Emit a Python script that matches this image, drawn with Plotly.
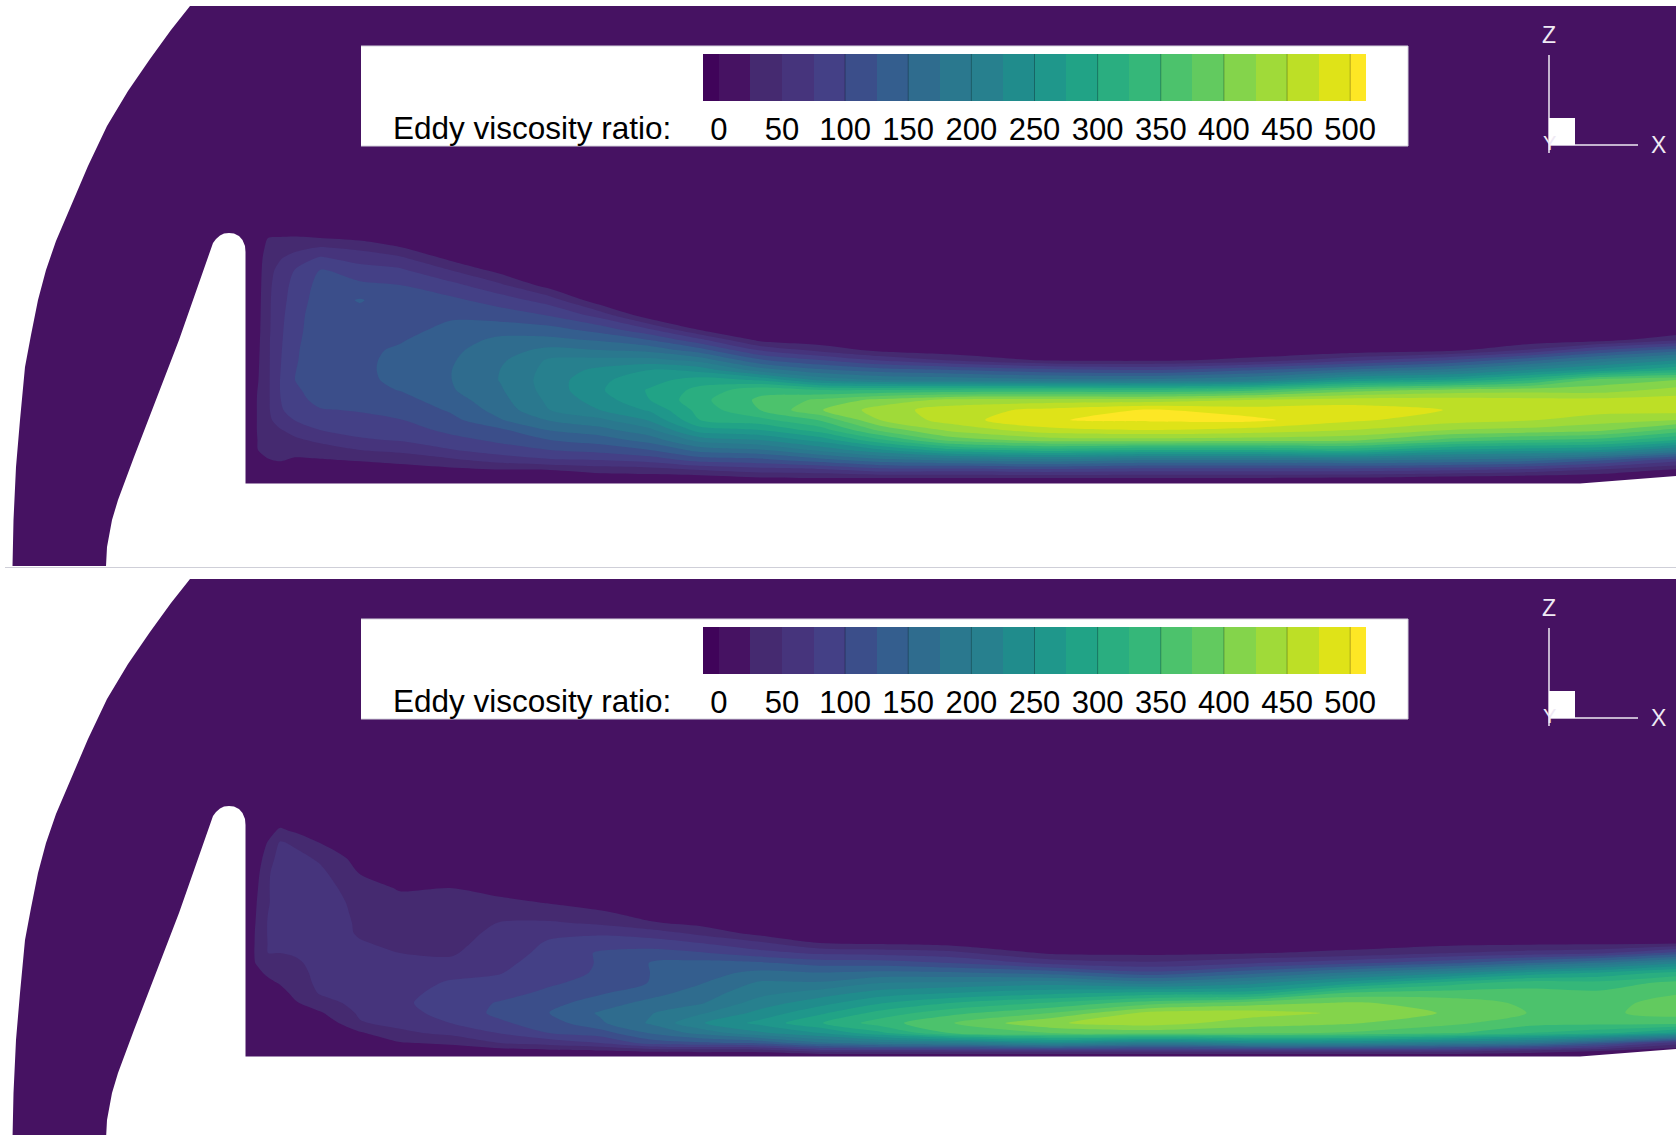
import numpy as np
import plotly.graph_objects as go

W, H = 1676, 1135
PANEL_SHIFT = 573

# ---- data: eddy viscosity ratio, one list per x station ----
x_stations = [247, 258, 268, 280, 295, 320, 360, 400, 450, 500, 550, 600, 650, 700, 760, 820,
              880, 950, 1050, 1150, 1250, 1350, 1450, 1530, 1600, 1676]
z_rows = [228, 238, 248, 258, 270, 285, 300, 315, 330, 340, 350, 360, 370, 380, 390, 400, 410,
          420, 430, 440, 450, 460, 470, 478, 483]

upper_field = [
    [0, 2, 3, 4, 5, 6, 7, 8, 8, 8, 8, 8, 8, 8, 8, 8, 8, 8, 8, 7, 6, 4, 2, 0, 0],
    [2, 10, 12, 14, 15, 16, 17, 18, 19, 20, 21, 22, 23, 24, 26, 27, 27, 27, 27, 26, 25, 18, 6, 1, 0],
    [5, 25, 32, 38, 42, 44, 45, 45, 45, 46, 46, 46, 46, 46, 46, 46, 46, 44, 40, 36, 31, 24, 8, 2, 0],
    [6, 27, 36, 48, 57, 63, 66, 68, 70, 71, 72, 73, 74, 75, 75, 74, 72, 62, 48, 40, 33, 27, 12, 3, 0],
    [7, 28, 43, 60, 76, 83, 86, 90, 92, 94, 96, 97, 99, 100, 95, 91, 85, 76, 60, 45, 33, 22, 10, 3, 0],
    [8, 25, 53, 78, 100, 108, 112, 115, 116, 117, 118, 119, 119, 118, 114, 108, 98, 86, 75, 56, 38, 23, 10, 3, 0],
    [5, 18, 45, 65, 85, 105, 127, 117, 118, 119, 120, 120, 120, 119, 116, 110, 102, 93, 83, 72, 50, 27, 12, 4, 0],
    [2, 8, 27, 55, 79, 100, 110, 116, 119, 123, 128, 131, 132, 131, 126, 116, 107, 99, 88, 77, 57, 32, 15, 5, 0],
    [0, 1, 6, 18, 50, 83, 106, 122, 130, 138, 144, 147, 149, 149, 147, 138, 128, 117, 106, 92, 73, 45, 18, 6, 0],
    [0, 0, 1, 3, 15, 55, 88, 113, 140, 156, 164, 170, 175, 176, 172, 167, 160, 148, 120, 105, 89, 60, 23, 7, 0],
    [0, 0, 0, 0, 1, 12, 63, 98, 136, 157, 182, 204, 209, 212, 211, 206, 200, 177, 152, 125, 100, 72, 25, 8, 0],
    [0, 0, 0, 0, 0, 0, 6, 65, 116, 147, 175, 207, 232, 245, 247, 237, 225, 194, 166, 137, 109, 75, 35, 10, 0],
    [0, 0, 0, 0, 0, 0, 0, 5, 80, 125, 167, 208, 250, 265, 278, 275, 254, 228, 194, 161, 125, 85, 38, 12, 0],
    [0, 0, 0, 0, 0, 0, 0, 0, 25, 82, 135, 190, 240, 288, 308, 318, 310, 300, 263, 210, 160, 110, 50, 12, 0],
    [0, 0, 0, 0, 0, 0, 0, 0, 3, 18, 72, 128, 188, 272, 342, 355, 350, 317, 275, 225, 172, 117, 63, 22, 0],
    [0, 0, 0, 0, 0, 0, 0, 0, 0, 8, 42, 100, 155, 220, 325, 380, 398, 352, 312, 260, 206, 140, 68, 25, 0],
    [0, 0, 0, 0, 0, 0, 0, 0, 0, 2, 17, 72, 137, 200, 325, 408, 437, 425, 381, 320, 246, 165, 87, 25, 0],
    [0, 0, 0, 0, 0, 0, 0, 0, 0, 0, 8, 47, 127, 193, 329, 432, 463, 462, 431, 385, 291, 180, 85, 25, 0],
    [0, 0, 0, 0, 0, 0, 0, 0, 0, 0, 2, 20, 108, 183, 332, 436, 482, 499, 467, 412, 311, 190, 91, 25, 0],
    [0, 0, 0, 0, 0, 0, 0, 0, 0, 0, 2, 18, 100, 183, 329, 436, 503, 504, 475, 414, 300, 175, 85, 25, 0],
    [0, 0, 0, 0, 0, 0, 0, 0, 0, 0, 3, 32, 123, 200, 343, 450, 487, 507, 466, 411, 300, 175, 85, 25, 0],
    [0, 0, 0, 0, 0, 0, 0, 0, 0, 0, 7, 67, 154, 260, 386, 462, 488, 480, 450, 406, 311, 181, 85, 22, 0],
    [0, 0, 0, 0, 0, 0, 0, 0, 0, 2, 17, 100, 183, 280, 408, 462, 474, 462, 425, 367, 270, 170, 78, 12, 0],
    [0, 0, 0, 0, 0, 0, 0, 0, 0, 7, 53, 142, 227, 322, 414, 458, 460, 452, 417, 350, 260, 160, 65, 8, 0],
    [0, 0, 0, 0, 0, 0, 0, 0, 1, 15, 100, 183, 262, 386, 412, 458, 460, 436, 406, 340, 250, 130, 45, 5, 0],
    [0, 0, 0, 0, 0, 0, 0, 0, 5, 46, 137, 223, 300, 400, 434, 462, 462, 425, 367, 300, 200, 85, 20, 2, 0],
]

lower_field = [
    [0, 0, 1, 2, 3, 4, 6, 8, 10, 11, 12, 13, 14, 15, 16, 14, 10, 6, 3, 1, 0, 0, 0, 0, 0],
    [0, 0, 2, 5, 10, 15, 21, 25, 27, 28, 29, 30, 30, 30, 28, 20, 12, 7, 3, 1, 0, 0, 0, 0, 0],
    [0, 2, 6, 15, 27, 38, 47, 48, 48, 50, 52, 52, 51, 50, 42, 30, 18, 8, 3, 1, 0, 0, 0, 0, 0],
    [0, 3, 15, 30, 53, 60, 62, 63, 62, 62, 62, 60, 56, 50, 41, 34, 27, 15, 5, 1, 0, 0, 0, 0, 0],
    [0, 1, 6, 22, 46, 58, 62, 65, 65, 65, 64, 62, 58, 53, 45, 40, 37, 32, 22, 10, 1, 0, 0, 0, 0],
    [0, 0, 1, 6, 25, 46, 56, 62, 65, 66, 66, 66, 65, 62, 60, 58, 56, 52, 40, 22, 5, 0, 0, 0, 0],
    [0, 0, 0, 0, 3, 14, 24, 35, 42, 44, 46, 47, 52, 55, 57, 58, 58, 59, 58, 54, 48, 22, 3, 0, 0],
    [0, 0, 0, 0, 0, 0, 2, 23, 32, 36, 38, 40, 44, 50, 55, 60, 63, 67, 70, 66, 57, 45, 23, 3, 0],
    [0, 0, 0, 0, 0, 0, 3, 25, 32, 35, 38, 40, 43, 47, 55, 68, 78, 84, 88, 84, 75, 56, 30, 6, 0],
    [0, 0, 0, 0, 0, 0, 0, 15, 32, 42, 51, 56, 60, 64, 69, 74, 82, 92, 102, 106, 96, 76, 50, 12, 0],
    [0, 0, 0, 0, 0, 0, 0, 3, 24, 38, 53, 70, 78, 82, 86, 90, 97, 105, 117, 126, 113, 101, 60, 18, 0],
    [0, 0, 0, 0, 0, 0, 0, 0, 12, 30, 46, 70, 90, 103, 102, 103, 108, 122, 137, 153, 146, 113, 75, 21, 0],
    [0, 0, 0, 0, 0, 0, 0, 0, 3, 13, 28, 63, 87, 110, 126, 125, 126, 140, 158, 173, 178, 152, 110, 30, 0],
    [0, 0, 0, 0, 0, 0, 0, 0, 0, 6, 17, 43, 75, 103, 133, 140, 148, 162, 172, 196, 222, 183, 120, 32, 0],
    [0, 0, 0, 0, 0, 0, 0, 0, 0, 0, 5, 15, 55, 84, 129, 157, 179, 192, 212, 233, 258, 220, 130, 33, 0],
    [0, 0, 0, 0, 0, 0, 0, 0, 0, 1, 3, 8, 25, 70, 115, 152, 178, 212, 240, 270, 298, 250, 168, 60, 0],
    [0, 0, 0, 0, 0, 0, 0, 0, 0, 0, 3, 7, 20, 66, 113, 158, 200, 236, 273, 309, 338, 294, 190, 60, 0],
    [0, 0, 0, 0, 0, 0, 0, 0, 0, 0, 2, 6, 13, 59, 100, 155, 204, 250, 300, 342, 373, 350, 200, 60, 0],
    [0, 0, 0, 0, 0, 0, 0, 0, 0, 0, 0, 3, 9, 20, 68, 141, 214, 268, 328, 375, 422, 375, 232, 60, 0],
    [0, 0, 0, 0, 0, 0, 0, 0, 0, 0, 0, 3, 8, 18, 55, 108, 190, 285, 365, 433, 438, 384, 200, 60, 0],
    [0, 0, 0, 0, 0, 0, 0, 0, 0, 0, 0, 4, 10, 23, 73, 142, 217, 287, 388, 437, 412, 382, 225, 60, 0],
    [0, 0, 0, 0, 0, 0, 0, 0, 0, 0, 0, 5, 12, 31, 94, 182, 267, 355, 404, 420, 403, 372, 225, 60, 0],
    [0, 0, 0, 0, 0, 0, 0, 0, 0, 0, 0, 6, 16, 50, 120, 220, 315, 362, 388, 397, 381, 354, 200, 60, 0],
    [0, 0, 0, 0, 0, 0, 0, 0, 0, 0, 0, 7, 18, 60, 150, 260, 340, 358, 370, 374, 360, 325, 183, 40, 0],
    [0, 0, 0, 0, 0, 0, 0, 0, 0, 0, 0, 7, 18, 70, 178, 280, 335, 355, 362, 370, 358, 308, 130, 25, 0],
    [0, 0, 0, 0, 0, 0, 0, 0, 0, 0, 0, 8, 20, 110, 220, 310, 358, 372, 390, 385, 358, 268, 60, 5, 0],
]

# colour key
band_edges = [-12.5] + [25 * i for i in range(0, 21)] + [512.5]
band_colors = ["#40045a", "#461262", "#452a70", "#46347c", "#444086", "#3b4e8a", "#345e8e", "#2f6c8e",
               "#2a788e", "#27808e", "#208c8c", "#1f978b", "#21a386", "#2aae80", "#35b779", "#4cc26c",
               "#62ca5f", "#84d44b", "#a0da39", "#bddf26", "#dfe318", "#fde725"]
tick_values = [0, 50, 100, 150, 200, 250, 300, 350, 400, 450, 500]
divider_values = [100, 150, 200, 250, 300, 350, 400, 450, 500]
key_title = "Eddy viscosity ratio:"

# geometry outlines of the cut plane (white, outside the domain)
outer_edge_x = [190, 171, 150, 128, 107, 88, 75, 56, 46, 38, 31, 25, 20, 16, 13.5, 12.5]
outer_edge_y = [6, 30, 59, 91, 126, 166, 197, 241, 270, 300, 335, 367, 420, 467, 520, 566]
lip_x = [106, 107, 112, 118, 134, 179, 213, 216, 220, 224, 229, 234, 239, 242.5, 245, 245.5, 245.5,
         1580, 1677, 1677]
lip_y = [566, 547, 520, 500, 457, 340, 243, 239, 235.5, 233.5, 233, 233.5, 236, 240, 246, 252, 483.5,
         483.5, 476, 566]
key_box_x = [361, 1408, 1408, 361]
key_box_y = [46, 46, 146, 146]
triad_z_x = [1549, 1549]
triad_z_y = [55, 153]
triad_x_x = [1549, 1638]
triad_x_y = [145, 145]
triad_box_x = [1549, 1575, 1575, 1549]
triad_box_y = [118, 118, 145, 145]

ZMIN, ZMAX = band_edges[0], band_edges[-1]


def stepped_scale(colors):
    span = ZMAX - ZMIN
    scale = []
    for i, c in enumerate(colors):
        scale.append([(band_edges[i] - ZMIN) / span, c])
        scale.append([(band_edges[i + 1] - ZMIN) / span, c])
    return scale


SCALE = stepped_scale(band_colors)
BG = band_colors[1]
fig = go.Figure()


def poly(xs, ys, fill="white", line=None, width=0):
    fig.add_trace(go.Scatter(x=list(xs), y=list(ys), mode="lines", fill="toself", fillcolor=fill,
                             line=dict(color=line or fill, width=width), hoverinfo="skip", showlegend=False))


for shift, field in ((0, upper_field), (PANEL_SHIFT, lower_field)):
    # a floor of 1 keeps every cell above the level-0 contour, so the 0-25 band fills the empty flow
    fig.add_trace(go.Contour(
        x=x_stations, y=[r + shift for r in z_rows], z=np.maximum(np.array(field).T, 1).tolist(),
        colorscale=SCALE, zmin=ZMIN, zmax=ZMAX, showscale=False, hoverinfo="skip",
        contours=dict(coloring="fill", start=0, end=500, size=25, showlines=False),
        line=dict(width=0, smoothing=0.8)))

for shift in (0, PANEL_SHIFT):
    poly([0, W + 1, W + 1, 0], [shift - 7, shift - 7, shift + 6, shift + 6])
    poly([0] + outer_edge_x + [0], [shift + 6] + [v + shift for v in outer_edge_y] + [shift + 566])
    poly(lip_x, [v + shift for v in lip_y])
    poly(key_box_x, [v + shift for v in key_box_y], line="#d4d2dc", width=1)
    fig.add_trace(go.Scatter(x=triad_z_x, y=[v + shift for v in triad_z_y], mode="lines",
                             line=dict(color="#efeaf4", width=1.5), hoverinfo="skip", showlegend=False))
    fig.add_trace(go.Scatter(x=triad_x_x, y=[v + shift for v in triad_x_y], mode="lines",
                             line=dict(color="#efeaf4", width=1.5), hoverinfo="skip", showlegend=False))
    poly(triad_box_x, [v + shift for v in triad_box_y])

fig.add_trace(go.Scatter(x=[5, W + 1], y=[567.5, 567.5], mode="lines",
                         line=dict(color="#cfcfd8", width=1), hoverinfo="skip", showlegend=False))

FONT = "Liberation Sans"
annotations = []
for shift in (0, PANEL_SHIFT):
    annotations.append(dict(x=391, y=128 + shift, xref="x", yref="y", text=key_title, showarrow=False,
                            xanchor="left", yanchor="middle", font=dict(family=FONT, size=31.5, color="black")))
    for txt, ax, ay, size in (("Z", 1549, 35, 23), ("X", 1658, 145, 23), ("Y", 1549, 143, 20)):
        annotations.append(dict(x=ax, y=ay + shift, xref="x", yref="y", text=txt, showarrow=False,
                                xanchor="center", yanchor="middle",
                                font=dict(family=FONT, size=size, color="#efeaf4")))

layout_axes = {}
for n, shift in ((2, 0), (3, PANEL_SHIFT)):
    mids = [(band_edges[i] + band_edges[i + 1]) / 2 for i in range(len(band_colors))]
    fig.add_trace(go.Heatmap(x=band_edges, y=[0, 1], z=[mids], colorscale=SCALE, zmin=ZMIN, zmax=ZMAX,
                             showscale=False, hoverinfo="skip", xaxis=f"x{n}", yaxis=f"y{n}"))
    dx, dy = [], []
    for v in divider_values:
        dx += [v, v, None]
        dy += [0, 1, None]
    fig.add_trace(go.Scatter(x=dx, y=dy, mode="lines", line=dict(color="rgba(0,0,0,0.28)", width=1),
                             hoverinfo="skip", showlegend=False, xaxis=f"x{n}", yaxis=f"y{n}"))
    layout_axes[f"xaxis{n}"] = dict(domain=[703 / W, 1366 / W], range=[ZMIN, ZMAX], anchor=f"y{n}",
                                    tickmode="array", tickvals=tick_values, ticktext=[str(t) for t in tick_values],
                                    ticks="outside", ticklen=1, tickcolor="rgba(0,0,0,0)",
                                    tickfont=dict(family=FONT, size=31, color="black"),
                                    showgrid=False, zeroline=False, showline=False, tickangle=0, fixedrange=True)
    layout_axes[f"yaxis{n}"] = dict(domain=[1 - (101 + shift) / H, 1 - (54 + shift) / H], range=[0, 1],
                                    anchor=f"x{n}", visible=False, fixedrange=True)

fig.update_layout(
    width=W, height=H, margin=dict(l=0, r=0, t=0, b=0, pad=0, autoexpand=False), autosize=False,
    paper_bgcolor="white", plot_bgcolor=BG, showlegend=False,
    xaxis=dict(range=[0, W], domain=[0, 1], visible=False, fixedrange=True),
    yaxis=dict(range=[H, 0], domain=[0, 1], visible=False, fixedrange=True),
    annotations=annotations, **layout_axes)

fig.write_html("out.html", config=dict(displayModeBar=False, responsive=False),
               default_width="1676px", default_height="1135px",
               post_script="document.body.style.margin='0';document.documentElement.style.overflow='hidden';")
